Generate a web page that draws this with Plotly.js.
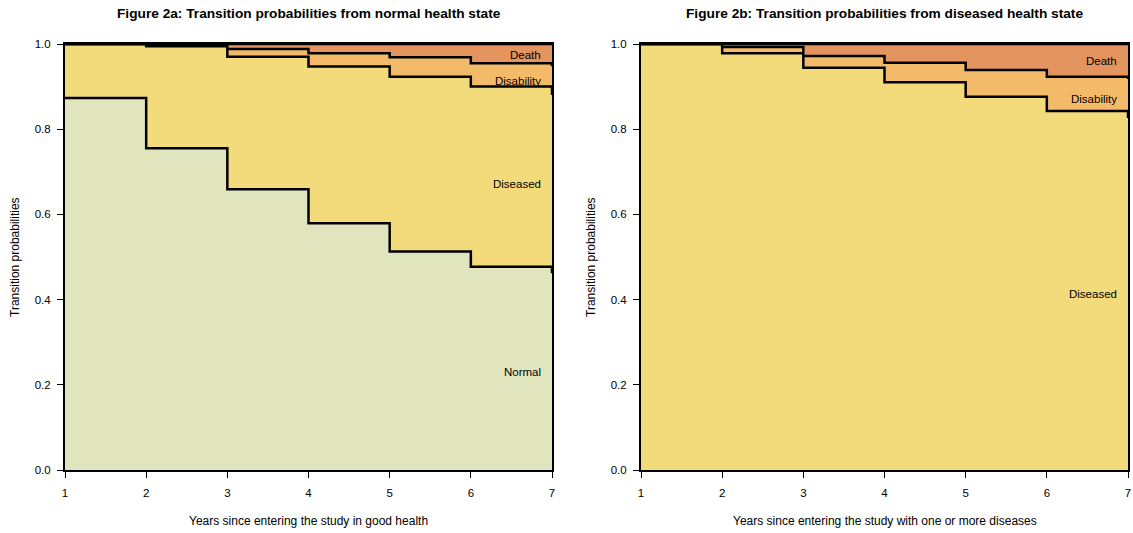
<!DOCTYPE html>
<html>
<head>
<meta charset="utf-8">
<script src="https://cdn.plot.ly/plotly-3.0.1.min.js"></script>
<style>html,body{margin:0;padding:0;background:#fff;}#chart{width:1133px;height:533px;}</style>
</head>
<body>
<div id="chart"></div>
<script>
// ---- data ----
var years = [1, 2, 3, 4, 5, 6, 7];
var xTickLabels = ['1', '2', '3', '4', '5', '6', '7'];
var yTickVals = [0, 0.2, 0.4, 0.6, 0.8, 1.0];

// Figure 2a: from normal health state (probability of each state)
var aNormal     = [0.873, 0.755, 0.659, 0.579, 0.513, 0.477, 0.462];
var aDiseased   = [0.127, 0.240, 0.311, 0.368, 0.410, 0.423, 0.418];
var aDisability = [0.000, 0.002, 0.018, 0.031, 0.046, 0.055, 0.068];
var aDeath      = [0.000, 0.003, 0.012, 0.022, 0.031, 0.045, 0.052];

// Figure 2b: from diseased health state
var bDiseased   = [1.000, 0.978, 0.944, 0.910, 0.876, 0.843, 0.826];
var bDisability = [0.000, 0.015, 0.028, 0.046, 0.063, 0.080, 0.092];
var bDeath      = [0.000, 0.007, 0.028, 0.044, 0.061, 0.077, 0.082];

var stateNames = ['Normal', 'Diseased', 'Disability', 'Death'];
var stateColors = {Normal: '#E1E5BE', Diseased: '#F3DA7B', Disability: '#F3BB69', Death: '#E3945F'};

var titleA = 'Figure 2a: Transition probabilities from normal health state';
var titleB = 'Figure 2b: Transition probabilities from diseased health state';
var xTitleA = 'Years since entering the study in good health';
var xTitleB = 'Years since entering the study with one or more diseases';
var yTitle = 'Transition probabilities';

// ---- build ----
var FONT = 'Liberation Sans, Arial, Helvetica, sans-serif';
var traces = [];
var annotations = [];

function buildPanel(series, names, xa, ya) {
  var cum = years.map(function () { return 0; });
  series.forEach(function (vals, i) {
    var bottom = cum.slice();
    cum = cum.map(function (c, j) { return c + vals[j]; });
    var top = cum.slice();
    traces.push({
      x: years, y: top, xaxis: xa, yaxis: ya,
      type: 'scatter', mode: 'lines',
      line: {shape: 'hv', color: '#000', width: 2.5},
      fill: i === 0 ? 'tozeroy' : 'tonexty',
      fillcolor: stateColors[names[i]],
      cliponaxis: false, hoverinfo: 'skip', showlegend: false
    });
    var last = years.length - 1;
    annotations.push({
      x: years[last], y: (bottom[last] + top[last]) / 2,
      xref: xa, yref: ya, text: names[i], showarrow: false,
      xanchor: 'right', yanchor: 'middle', xshift: -9,
      font: {family: FONT, size: 11.5, color: '#000'}
    });
  });
}

buildPanel([aNormal, aDiseased, aDisability, aDeath], stateNames, 'x', 'y');
buildPanel([bDiseased, bDisability, bDeath], stateNames.slice(1), 'x2', 'y2');

var xDomA = [65 / 1133, 552 / 1133];
var xDomB = [641 / 1133, 1128 / 1133];
var yDom = [1 - 470 / 533, 1 - 44 / 533];

function xAxis(dom, anchor) {
  return {
    domain: dom, anchor: anchor, range: [1, 7], fixedrange: true,
    tickvals: years, ticktext: xTickLabels,
    ticks: 'outside', ticklen: 6, tickwidth: 1, tickcolor: '#000',
    ticklabelstandoff: 5,
    showline: true, linecolor: '#000', linewidth: 2, mirror: true,
    showgrid: false, zeroline: false,
    tickfont: {family: FONT, size: 11.5, color: '#000'}
  };
}
function yAxis(anchor) {
  return {
    domain: yDom, anchor: anchor, range: [0, 1], fixedrange: true,
    tickvals: yTickVals, tickformat: '.1f',
    ticks: 'outside', ticklen: 6, tickwidth: 1, tickcolor: '#000',
    ticklabelstandoff: 4,
    showline: true, linecolor: '#000', linewidth: 2, mirror: true,
    showgrid: false, zeroline: false,
    tickfont: {family: FONT, size: 11.5, color: '#000'}
  };
}

function paperText(text, x, y, opts) {
  var a = {text: text, x: x, y: y, xref: 'paper', yref: 'paper',
           showarrow: false, xanchor: 'center', yanchor: 'middle',
           font: {family: FONT, size: 12, color: '#000'}};
  for (var k in opts) a[k] = opts[k];
  return a;
}

var midA = (xDomA[0] + xDomA[1]) / 2;
var midB = (xDomB[0] + xDomB[1]) / 2;
var midY = (yDom[0] + yDom[1]) / 2;
annotations.push(paperText('<b>' + titleA + '</b>', midA, 1 - 14 / 533, {font: {family: FONT, size: 13.7, color: '#000'}}));
annotations.push(paperText('<b>' + titleB + '</b>', midB, 1 - 14 / 533, {font: {family: FONT, size: 13.7, color: '#000'}}));
annotations.push(paperText(xTitleA, midA, 1 - 521 / 533, {}));
annotations.push(paperText(xTitleB, midB, 1 - 521 / 533, {}));
annotations.push(paperText(yTitle, 15 / 1133, midY, {textangle: -90}));
annotations.push(paperText(yTitle, 591 / 1133, midY, {textangle: -90}));

var layout = {
  width: 1133, height: 533,
  margin: {l: 0, r: 0, t: 0, b: 0},
  paper_bgcolor: '#fff', plot_bgcolor: '#fff',
  showlegend: false,
  xaxis: xAxis(xDomA, 'y'),
  yaxis: yAxis('x'),
  xaxis2: xAxis(xDomB, 'y2'),
  yaxis2: yAxis('x2'),
  annotations: annotations,
  font: {family: FONT, size: 12, color: '#000'}
};

Plotly.newPlot('chart', traces, layout, {displayModeBar: false, staticPlot: true});
</script>
</body>
</html>
